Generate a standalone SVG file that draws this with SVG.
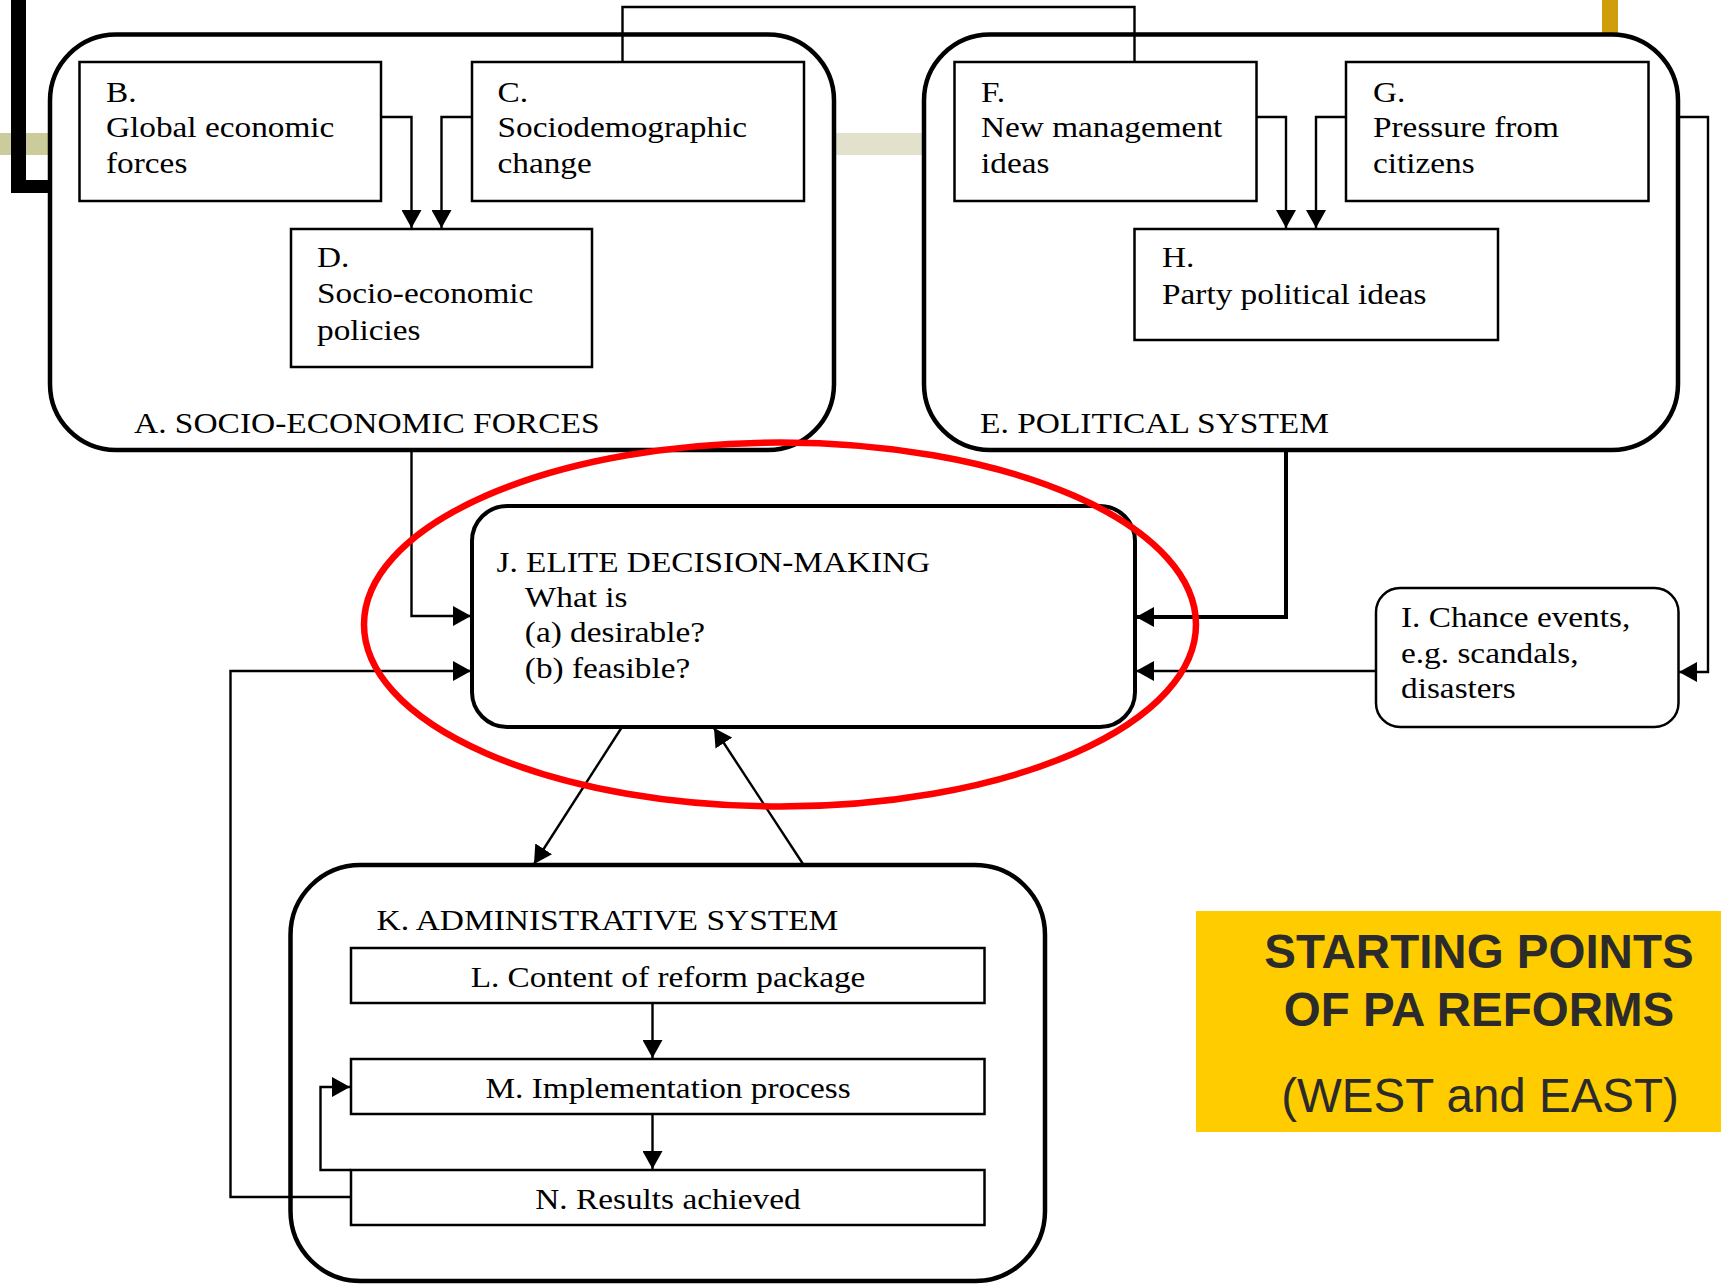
<svg xmlns="http://www.w3.org/2000/svg" width="1721" height="1284" viewBox="0 0 1721 1284">
  <style>
    .t { font-family: "Liberation Serif", "Times New Roman", serif; font-size: 30px; fill: #000; }
    .box { fill: #fff; stroke: #000; stroke-width: 2.5; }
    .outer { fill: #fff; stroke: #000; stroke-width: 4.5; }
    .line { fill: none; stroke: #000; stroke-width: 2.4; }
    .thick { fill: none; stroke: #000; stroke-width: 4; }
    .title { font-family: "Liberation Sans", Arial, sans-serif; font-size: 47.5px; fill: #2b2b2b; text-anchor: middle; }
  </style>
  <defs>
    <marker id="arrow" markerUnits="userSpaceOnUse" markerWidth="19" markerHeight="20" refX="18" refY="10" orient="auto">
      <path d="M0,0 L18,10 L0,20 z" fill="#000"/>
    </marker>
  </defs>

  <rect width="1721" height="1284" fill="#fff"/>

  <!-- slide template decoration behind the diagram -->
  <g id="decor">
    <rect x="0" y="133" width="50" height="22" fill="#cccc9b"/>
    <rect x="834" y="133" width="90" height="22" fill="#e2e2cc"/>
    <rect x="11" y="0" width="15" height="193" fill="#000"/>
    <rect x="11" y="180" width="39" height="13" fill="#000"/>
    <rect x="1602" y="0" width="16" height="36" fill="#cf9e0a"/>
  </g>

  <!-- A. socio-economic forces -->
  <g id="nodeA">
    <rect class="outer" x="50" y="34.5" width="784" height="415.5" rx="66" ry="66"/>
    <text class="t" transform="translate(134 0) scale(1.115 1)"><tspan x="0" y="433">A. SOCIO-ECONOMIC FORCES</tspan></text>
  </g>
  <g id="nodeB">
    <rect class="box" x="79.5" y="62" width="301.5" height="139"/>
    <text class="t" transform="translate(106 0) scale(1.11 1)"><tspan x="0" y="102">B.</tspan><tspan x="0" y="137">Global economic</tspan><tspan x="0" y="173">forces</tspan></text>
  </g>
  <g id="nodeC">
    <rect class="box" x="472" y="62" width="332" height="139"/>
    <text class="t" transform="translate(497.5 0) scale(1.11 1)"><tspan x="0" y="102">C.</tspan><tspan x="0" y="137">Sociodemographic</tspan><tspan x="0" y="173">change</tspan></text>
  </g>
  <g id="nodeD">
    <rect class="box" x="291" y="229" width="301" height="138"/>
    <text class="t" transform="translate(317 0) scale(1.11 1)"><tspan x="0" y="267">D.</tspan><tspan x="0" y="303">Socio-economic</tspan><tspan x="0" y="340">policies</tspan></text>
  </g>

  <!-- E. political system -->
  <g id="nodeE">
    <rect class="outer" x="924" y="34.5" width="754" height="415.5" rx="66" ry="66"/>
    <text class="t" transform="translate(980 0) scale(1.115 1)"><tspan x="0" y="433">E. POLITICAL SYSTEM</tspan></text>
  </g>
  <g id="nodeF">
    <rect class="box" x="954.5" y="62" width="302" height="139"/>
    <text class="t" transform="translate(981 0) scale(1.11 1)"><tspan x="0" y="102">F.</tspan><tspan x="0" y="137">New management</tspan><tspan x="0" y="173">ideas</tspan></text>
  </g>
  <g id="nodeG">
    <rect class="box" x="1346" y="62" width="302.5" height="139"/>
    <text class="t" transform="translate(1373 0) scale(1.11 1)"><tspan x="0" y="102">G.</tspan><tspan x="0" y="137">Pressure from</tspan><tspan x="0" y="173">citizens</tspan></text>
  </g>
  <g id="nodeH">
    <rect class="box" x="1134.5" y="229" width="363.5" height="111"/>
    <text class="t" transform="translate(1162 0) scale(1.11 1)"><tspan x="0" y="267">H.</tspan><tspan x="0" y="304">Party political ideas</tspan></text>
  </g>

  <!-- I. chance events -->
  <g id="nodeI">
    <rect class="box" x="1376" y="588" width="302.5" height="139" rx="24" ry="24"/>
    <text class="t" transform="translate(1401 0) scale(1.11 1)"><tspan x="0" y="627">I. Chance events,</tspan><tspan x="0" y="663">e.g. scandals,</tspan><tspan x="0" y="698">disasters</tspan></text>
  </g>

  <!-- J. elite decision-making -->
  <g id="nodeJ">
    <rect class="box" x="472" y="506" width="663" height="221" rx="35" ry="35" style="stroke-width:4"/>
    <text class="t" transform="translate(496.5 0) scale(1.11 1)"><tspan x="0" y="572">J. ELITE DECISION-MAKING</tspan><tspan x="25.5" y="607">What is</tspan><tspan x="25.5" y="642">(a) desirable?</tspan><tspan x="25.5" y="678">(b) feasible?</tspan></text>
  </g>

  <!-- K. administrative system -->
  <g id="nodeK">
    <rect class="outer" x="290.5" y="865" width="754.5" height="416" rx="70" ry="70"/>
    <text class="t" transform="translate(376.6 0) scale(1.115 1)"><tspan x="0" y="930">K. ADMINISTRATIVE SYSTEM</tspan></text>
  </g>
  <g id="nodeL">
    <rect class="box" x="351" y="948" width="633.5" height="55"/>
    <text class="t" text-anchor="middle" transform="translate(668 0) scale(1.11 1)"><tspan x="0" y="987">L. Content of reform package</tspan></text>
  </g>
  <g id="nodeM">
    <rect class="box" x="351" y="1059" width="633.5" height="55"/>
    <text class="t" text-anchor="middle" transform="translate(668 0) scale(1.11 1)"><tspan x="0" y="1098">M. Implementation process</tspan></text>
  </g>
  <g id="nodeN">
    <rect class="box" x="351" y="1170" width="633.5" height="55"/>
    <text class="t" text-anchor="middle" transform="translate(668 0) scale(1.11 1)"><tspan x="0" y="1209">N. Results achieved</tspan></text>
  </g>

  <!-- connectors -->
  <g id="connectors">
    <path class="line" d="M381,117 H411.5 V228" marker-end="url(#arrow)"/>
    <path class="line" d="M472,117 H441.5 V228" marker-end="url(#arrow)"/>
    <path class="line" d="M622.5,62 V7 H1134.5 V62"/>
    <path class="line" d="M1256.5,117 H1286 V228" marker-end="url(#arrow)"/>
    <path class="line" d="M1346,117 H1316 V228" marker-end="url(#arrow)"/>
    <path class="line" d="M1678,117 H1708 V672 H1679" marker-end="url(#arrow)"/>
    <path class="line" d="M411.5,450 V616 H471" marker-end="url(#arrow)"/>
    <path class="thick" d="M1286,450 V617 H1136" marker-end="url(#arrow)"/>
    <path class="line" d="M1376,671 H1136" marker-end="url(#arrow)"/>
    <path class="line" d="M351,1197 H230.5 V671 H471" marker-end="url(#arrow)"/>
    <path class="line" d="M622,727 L534,864" marker-end="url(#arrow)"/>
    <path class="line" d="M803,864 L714,728" marker-end="url(#arrow)"/>
    <path class="line" d="M652.5,1003 V1058" marker-end="url(#arrow)"/>
    <path class="line" d="M652.5,1114 V1169" marker-end="url(#arrow)"/>
    <path class="line" d="M351,1170 H320.5 V1087 H350" marker-end="url(#arrow)"/>
  </g>

  <!-- highlight ring around the decision-making core -->
  <ellipse id="highlight" cx="780" cy="624.5" rx="416" ry="182" fill="none" stroke="#ff0000" stroke-width="6.5"/>

  <!-- caption panel -->
  <g id="caption">
    <rect x="1196" y="911" width="525" height="221" fill="#ffcc00"/>
    <text class="title" x="1479" y="968" font-weight="bold">STARTING POINTS</text>
    <text class="title" x="1479" y="1026" font-weight="bold">OF PA REFORMS</text>
    <text class="title" x="1480" y="1112">(WEST and EAST)</text>
  </g>
</svg>
